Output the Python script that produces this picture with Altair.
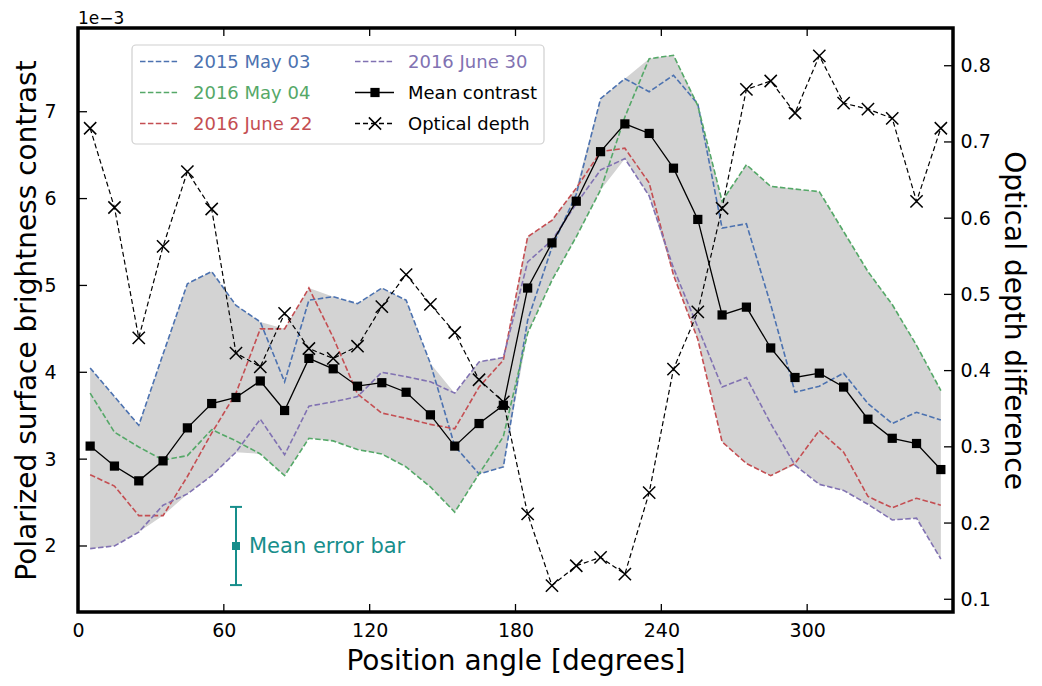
import altair as alt
import pandas as pd

# ---------------- data ----------------
angles = [5, 15, 25, 35, 45, 55, 65, 75, 85, 95, 105, 115, 125, 135, 145, 155, 165, 175,
          185, 195, 205, 215, 225, 235, 245, 255, 265, 275, 285, 295, 305, 315, 325, 335, 345, 355]

# contrast values in units of 1e-3
may2015 = [4.05, 3.72, 3.39, 4.21, 5.02, 5.16, 4.77, 4.58, 3.89, 4.83, 4.87, 4.79, 4.97, 4.83, 4.10, 3.15, 2.83, 2.91,
           4.60, 5.44, 6.05, 7.15, 7.38, 7.23, 7.42, 7.09, 5.66, 5.71, 4.78, 3.77, 3.84, 3.99, 3.64, 3.41, 3.54, 3.45]
may2016 = [3.76, 3.31, 3.14, 2.99, 3.04, 3.34, 3.21, 3.06, 2.81, 3.24, 3.21, 3.11, 3.06, 2.91, 2.68, 2.39, 2.83, 3.26,
           4.45, 5.06, 5.56, 6.10, 6.94, 7.61, 7.65, 7.07, 5.97, 6.39, 6.14, 6.11, 6.08, 5.62, 5.16, 4.78, 4.31, 3.79]
june22 = [2.82, 2.69, 2.35, 2.35, 2.80, 3.30, 3.76, 4.50, 4.50, 4.97, 4.40, 3.75, 3.53, 3.47, 3.40, 3.35, 3.83, 4.14,
          5.56, 5.75, 6.12, 6.54, 6.58, 6.18, 5.12, 4.38, 3.20, 2.95, 2.81, 2.95, 3.33, 3.08, 2.57, 2.44, 2.55, 2.47]
june30 = [1.97, 2.00, 2.16, 2.47, 2.60, 2.81, 3.08, 3.46, 3.05, 3.61, 3.66, 3.72, 4.00, 3.95, 3.89, 3.76, 4.12, 4.17,
          5.27, 5.52, 5.94, 6.33, 6.46, 6.03, 5.20, 4.52, 3.83, 3.94, 3.41, 2.93, 2.71, 2.64, 2.48, 2.30, 2.32, 1.85]
mean_contrast = [3.15, 2.92, 2.75, 2.98, 3.36, 3.64, 3.71, 3.90, 3.56, 4.16, 4.04, 3.84, 3.88, 3.77, 3.51, 3.15, 3.41, 3.62,
                 4.97, 5.49, 5.97, 6.54, 6.86, 6.75, 6.35, 5.76, 4.66, 4.75, 4.28, 3.94, 3.99, 3.83, 3.46, 3.24, 3.18, 2.88]
optical_depth = [0.718, 0.614, 0.443, 0.563, 0.661, 0.612, 0.423, 0.405, 0.475, 0.429, 0.416, 0.432, 0.484, 0.526,
                 0.487, 0.450, 0.388, 0.359, 0.212, 0.118, 0.144, 0.155, 0.133, 0.240, 0.402, 0.477, 0.613, 0.769,
                 0.780, 0.738, 0.813, 0.751, 0.743, 0.731, 0.622, 0.718]

err_angle = [65]
err_center = [2.0]
err_low = [1.55]
err_high = [2.45]

x_ticks = [0, 60, 120, 180, 240, 300]
left_ticks = [2, 3, 4, 5, 6, 7]
right_ticks = [0.1, 0.2, 0.3, 0.4, 0.5, 0.6, 0.7, 0.8]

series_names = ["2015 May 03", "2016 May 04", "2016 June 22", "2016 June 30"]
series_cols = ["may2015", "may2016", "june22", "june30"]
series_colors = ["#4c72b0", "#55a868", "#c44e52", "#8172b2"]

# ---------------- tables ----------------
df = pd.DataFrame({
    "angle": angles, "may2015": may2015, "may2016": may2016,
    "june22": june22, "june30": june30, "mean": mean_contrast, "od": optical_depth,
})
df["lo"] = df[series_cols].min(axis=1)
df["hi"] = df[series_cols].max(axis=1)
err_df = pd.DataFrame({"angle": err_angle, "c": err_center, "lo": err_low, "hi": err_high})

W, H = 875, 584
FONT = "DejaVu Sans"
TEAL = "#178e8b"
XPATH = "M -1 -1 L 1 1 M -1 1 L 1 -1"

xscale = alt.Scale(domain=[0, 360], nice=False, zero=False)
lscale = alt.Scale(domain=[1.24, 7.964], nice=False, zero=False)
rscale = alt.Scale(domain=[0.0833, 0.8495], nice=False, zero=False)

xaxis = alt.Axis(values=x_ticks, title="Position angle [degrees]", orient="bottom", ticks=False, tickSize=0,
                 domain=False, grid=False, labelPadding=9, labelFontSize=19, labelFlush=False,
                 titleFontSize=28, titleFontWeight="normal", titlePadding=7)
laxis = alt.Axis(values=left_ticks, format="d", title="Polarized surface brightness contrast", orient="left",
                 ticks=False, tickSize=0, domain=False, grid=False, labelPadding=22, labelFontSize=19,
                 labelFlush=False, titleFontSize=28, titleFontWeight="normal", titlePadding=2)
raxis = alt.Axis(values=right_ticks, format=".1f", title="Optical depth difference", orient="right",
                 ticks=False, tickSize=0, domain=False, grid=False, labelPadding=7, labelFontSize=19,
                 labelFlush=False, titleFontSize=28, titleFontWeight="normal", titlePadding=8)


def X(f):
    return alt.X(f, type="quantitative", scale=xscale, axis=xaxis)


def LY(f):
    return alt.Y(f, type="quantitative", scale=lscale, axis=laxis)


def RY(f):
    return alt.Y(f, type="quantitative", scale=rscale, axis=raxis)


base = alt.Chart(df)

# ---------- left axis group ----------
left_layers = [base.mark_area(color="#d3d3d3", opacity=1).encode(x=X("angle"), y=LY("lo"), y2=alt.Y2("hi"))]
for col, color in zip(series_cols, series_colors):
    left_layers.append(base.mark_line(color=color, strokeDash=[5.5, 2.4], strokeWidth=1.6)
                       .encode(x=X("angle"), y=LY(col)))
left_layers.append(base.mark_line(color="black", strokeWidth=1.3).encode(x=X("angle"), y=LY("mean")))
left_layers.append(base.mark_point(shape="square", filled=True, size=85, color="black", opacity=1)
                   .encode(x=X("angle"), y=LY("mean")))

eb = alt.Chart(err_df)
left_layers.append(eb.mark_rule(color=TEAL, strokeWidth=2).encode(x=X("angle"), y=LY("lo"), y2=alt.Y2("hi")))
left_layers.append(eb.mark_tick(orient="horizontal", size=12, thickness=2, color=TEAL, opacity=1)
                   .encode(x=X("angle"), y=LY("lo")))
left_layers.append(eb.mark_tick(orient="horizontal", size=12, thickness=2, color=TEAL, opacity=1)
                   .encode(x=X("angle"), y=LY("hi")))
left_layers.append(eb.mark_point(shape="square", filled=True, size=64, color=TEAL, opacity=1)
                   .encode(x=X("angle"), y=LY("c")))
left_layers.append(eb.mark_text(text="Mean error bar", align="left", baseline="middle", dx=13, dy=1,
                                fontSize=21, font=FONT, color=TEAL)
                   .encode(x=X("angle"), y=LY("c")))

# inward ticks (left, top, bottom)
lt = alt.Chart(pd.DataFrame({"v": left_ticks}))
left_layers.append(lt.mark_rule(color="black", strokeWidth=1.3)
                   .encode(y=LY("v"), x=alt.value(0), x2=alt.value(9)))
xt = alt.Chart(pd.DataFrame({"v": x_ticks[1:]}))
left_layers.append(xt.mark_rule(color="black", strokeWidth=1.3)
                   .encode(x=X("v"), y=alt.value(0), y2=alt.value(8)))
left_layers.append(xt.mark_rule(color="black", strokeWidth=1.3)
                   .encode(x=X("v"), y=alt.value(H - 8), y2=alt.value(H)))

left_group = alt.layer(*left_layers)

# ---------- right axis group ----------
right_group = alt.layer(
    base.mark_line(color="black", strokeDash=[5, 3], strokeWidth=1.2).encode(x=X("angle"), y=RY("od")),
    base.mark_point(shape=XPATH, filled=False, color="black", strokeWidth=1.5, size=150, opacity=1)
        .encode(x=X("angle"), y=RY("od")),
    alt.Chart(pd.DataFrame({"v": right_ticks})).mark_rule(color="black", strokeWidth=1.3)
        .encode(y=RY("v"), x=alt.value(W - 9), x2=alt.value(W)),
)

# ---------- legend + offset text ----------
one = pd.DataFrame({"k": [0]})
leg = [
    alt.Chart(one).mark_rect(fill="white", stroke="#cccccc", strokeWidth=1.2, cornerRadius=4, opacity=0.92)
    .encode(x=alt.value(54), x2=alt.value(466), y=alt.value(17), y2=alt.value(116)),
    alt.Chart(one).mark_text(text="1e\u22123", align="left", baseline="alphabetic", fontSize=17, font=FONT,
                             color="black")
    .encode(x=alt.value(0), y=alt.value(-4)),
]
entries = [(n, c, [5.5, 2.4], None, 0, i) for i, (n, c) in enumerate(zip(series_names[:3], series_colors[:3]))]
entries += [(series_names[3], series_colors[3], [5.5, 2.4], None, 1, 0),
            ("Mean contrast", "black", [1, 0], "square", 1, 1),
            ("Optical depth", "black", [5, 3], XPATH, 1, 2)]
row_y = [33.5, 64.5, 95.5]
for name, color, dash, marker, col, row in entries:
    x0 = 62 if col == 0 else 277
    y = row_y[row]
    leg.append(alt.Chart(one).mark_rule(color=color, strokeDash=dash, strokeWidth=1.6 if color != "black" else 1.3)
               .encode(x=alt.value(x0), x2=alt.value(x0 + 39), y=alt.value(y)))
    if marker == "square":
        leg.append(alt.Chart(one).mark_point(shape="square", filled=True, size=85, color="black", opacity=1)
                   .encode(x=alt.value(x0 + 20), y=alt.value(y)))
    elif marker is not None:
        leg.append(alt.Chart(one).mark_point(shape=marker, filled=False, color="black", strokeWidth=1.5,
                                             size=150, opacity=1)
                   .encode(x=alt.value(x0 + 20), y=alt.value(y)))
    leg.append(alt.Chart(one).mark_text(text=name, align="left", baseline="middle", fontSize=18, font=FONT,
                                        color=color)
               .encode(x=alt.value(x0 + 53), y=alt.value(y + 1)))

legend_group = alt.layer(*leg)

chart = (
    alt.layer(left_group, right_group, legend_group)
    .resolve_scale(y="independent")
    .properties(width=W, height=H, autosize=alt.AutoSizeParams(type="none"),
                padding={"left": 70, "top": 20, "right": 81, "bottom": 66})
    .configure_view(stroke="black", strokeWidth=3.5)
    .configure_axis(labelFont=FONT, titleFont=FONT, labelColor="black", titleColor="black")
    .configure_text(font=FONT)
)

chart.save("out.html", embed_options={"renderer": "svg", "actions": False})
